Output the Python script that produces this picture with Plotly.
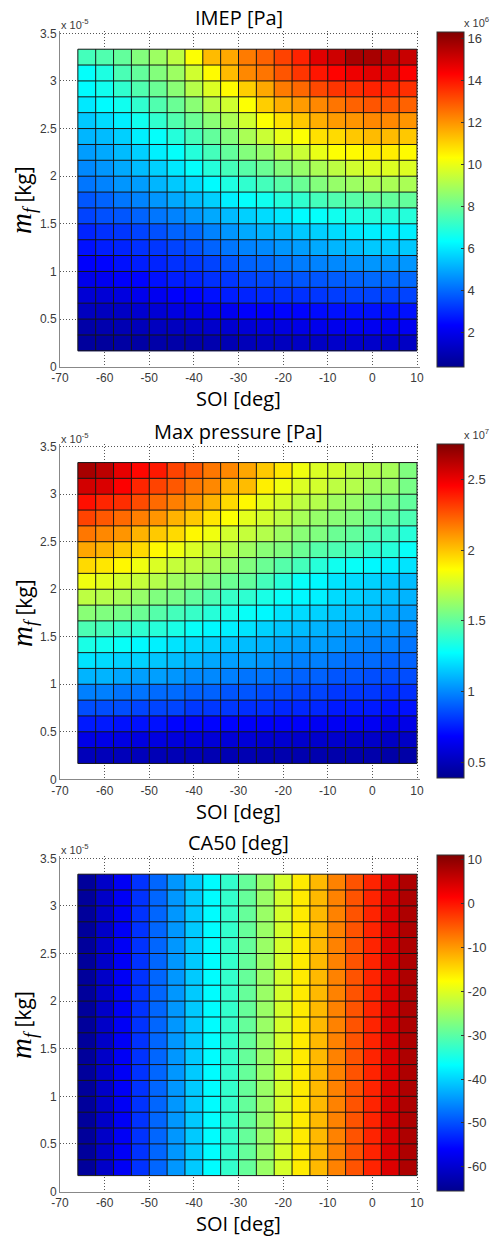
import plotly.graph_objects as go

# ---------------- data ----------------
# SOI grid (cell edges), deg
soi_edges = [-66, -62, -58, -54, -50, -46, -42, -38, -34, -30, -26, -22,
             -18, -14, -10, -6, -2, 2, 6, 10]
# fuel mass grid (cell edges), x 1e-5 kg
mf_edges = [0.167, 0.333, 0.5, 0.667, 0.833, 1.0, 1.167, 1.333, 1.5, 1.667,
            1.833, 2.0, 2.167, 2.333, 2.5, 2.667, 2.833, 3.0, 3.167, 3.333]

# IMEP, x 1e6 Pa  (rows: lowest m_f first; columns: SOI from -66)
imep = [
    [0.6, 0.6, 0.7, 0.7, 0.8, 0.8, 0.8, 0.9, 1.0, 1.1, 1.2, 1.2, 1.3, 1.3, 1.4, 1.4, 1.4, 1.4, 1.3],
    [0.8, 0.9, 1.0, 1.1, 1.2, 1.2, 1.3, 1.4, 1.5, 1.6, 1.7, 1.8, 1.9, 2.0, 2.0, 2.1, 2.1, 2.1, 2.1],
    [1.2, 1.2, 1.3, 1.5, 1.6, 1.8, 1.9, 2.0, 2.1, 2.3, 2.3, 2.4, 2.4, 2.5, 2.6, 2.6, 2.6, 2.6, 2.6],
    [1.6, 1.6, 1.8, 2.0, 2.1, 2.3, 2.4, 2.6, 2.8, 2.9, 3.0, 3.1, 3.1, 3.2, 3.3, 3.4, 3.4, 3.4, 3.4],
    [2.0, 2.1, 2.3, 2.4, 2.6, 2.8, 2.9, 3.1, 3.2, 3.4, 3.5, 3.6, 3.7, 3.7, 3.8, 3.9, 4.0, 4.0, 4.0],
    [2.3, 2.4, 2.6, 2.8, 2.9, 3.1, 3.2, 3.4, 3.7, 3.9, 4.0, 4.2, 4.3, 4.4, 4.5, 4.6, 4.7, 4.7, 4.7],
    [2.6, 2.8, 2.9, 3.1, 3.2, 3.4, 3.6, 3.9, 4.2, 4.4, 4.5, 4.7, 4.8, 5.0, 5.2, 5.3, 5.5, 5.5, 5.5],
    [2.9, 3.1, 3.2, 3.4, 3.6, 3.9, 4.0, 4.4, 4.7, 5.0, 5.2, 5.3, 5.5, 5.6, 5.8, 6.0, 6.1, 6.1, 6.1],
    [3.4, 3.6, 3.7, 3.9, 4.2, 4.4, 4.7, 5.0, 5.3, 5.6, 5.8, 6.0, 6.3, 6.4, 6.6, 6.8, 6.9, 6.9, 6.9],
    [3.7, 3.9, 4.2, 4.4, 4.7, 5.0, 5.3, 5.6, 6.1, 6.4, 6.6, 6.9, 7.1, 7.4, 7.6, 7.7, 7.9, 7.9, 7.9],
    [4.2, 4.4, 4.7, 4.8, 5.2, 5.5, 5.8, 6.3, 6.8, 7.1, 7.4, 7.7, 8.0, 8.4, 8.7, 8.8, 9.0, 9.0, 9.0],
    [4.5, 4.7, 5.0, 5.3, 5.6, 6.0, 6.4, 6.9, 7.4, 7.7, 8.0, 8.4, 8.7, 9.0, 9.3, 9.6, 9.8, 9.8, 9.8],
    [4.8, 5.0, 5.3, 5.6, 6.1, 6.4, 6.9, 7.4, 7.9, 8.4, 8.7, 9.2, 9.5, 10.0, 10.3, 10.4, 10.6, 10.6, 10.4],
    [5.2, 5.3, 5.6, 6.1, 6.4, 6.9, 7.4, 7.9, 8.4, 9.0, 9.5, 10.0, 10.3, 10.8, 10.9, 11.2, 11.4, 11.4, 11.2],
    [5.5, 5.8, 6.1, 6.6, 7.1, 7.6, 8.0, 8.5, 9.0, 9.6, 10.3, 10.8, 11.2, 11.6, 11.9, 12.0, 12.2, 12.2, 12.0],
    [6.0, 6.3, 6.6, 7.1, 7.6, 8.0, 8.5, 9.2, 9.6, 10.3, 11.1, 11.6, 11.9, 12.2, 12.5, 12.8, 13.0, 13.0, 12.8],
    [6.3, 6.6, 7.1, 7.6, 8.0, 8.5, 9.2, 9.8, 10.4, 11.1, 11.7, 12.4, 12.7, 13.2, 13.5, 13.6, 13.8, 13.8, 13.6],
    [6.4, 6.8, 7.5, 7.9, 8.4, 8.8, 9.6, 10.4, 11.4, 12.2, 12.5, 13.0, 13.5, 14.0, 14.3, 14.6, 14.8, 14.8, 14.4],
    [7.4, 7.6, 7.9, 8.4, 8.8, 9.3, 10.3, 11.4, 11.7, 12.4, 12.8, 13.3, 13.8, 14.8, 15.1, 15.7, 15.7, 15.4, 15.2],
]

# Max pressure, x 1e7 Pa
pmax = [
    [0.50, 0.50, 0.50, 0.50, 0.49, 0.49, 0.49, 0.48, 0.48, 0.48, 0.47, 0.47, 0.47, 0.47, 0.46, 0.46, 0.46, 0.45, 0.45],
    [0.62, 0.62, 0.61, 0.60, 0.60, 0.59, 0.59, 0.58, 0.58, 0.58, 0.56, 0.56, 0.55, 0.55, 0.55, 0.54, 0.54, 0.53, 0.53],
    [0.74, 0.74, 0.72, 0.72, 0.72, 0.69, 0.69, 0.69, 0.69, 0.67, 0.67, 0.67, 0.67, 0.65, 0.65, 0.65, 0.65, 0.62, 0.62],
    [0.86, 0.86, 0.86, 0.84, 0.84, 0.84, 0.81, 0.81, 0.81, 0.79, 0.79, 0.77, 0.77, 0.77, 0.74, 0.74, 0.74, 0.72, 0.72],
    [0.98, 0.98, 0.95, 0.95, 0.93, 0.93, 0.91, 0.91, 0.88, 0.88, 0.86, 0.86, 0.84, 0.84, 0.81, 0.81, 0.81, 0.79, 0.79],
    [1.10, 1.10, 1.07, 1.05, 1.05, 1.03, 1.00, 1.00, 0.98, 0.95, 0.95, 0.93, 0.91, 0.91, 0.88, 0.88, 0.86, 0.86, 0.86],
    [1.21, 1.19, 1.17, 1.17, 1.14, 1.12, 1.10, 1.07, 1.05, 1.05, 1.03, 1.00, 0.98, 0.98, 0.95, 0.93, 0.93, 0.91, 0.91],
    [1.33, 1.31, 1.29, 1.26, 1.24, 1.21, 1.19, 1.17, 1.14, 1.12, 1.10, 1.07, 1.05, 1.05, 1.03, 1.00, 0.98, 0.98, 0.95],
    [1.45, 1.43, 1.40, 1.38, 1.36, 1.33, 1.29, 1.26, 1.24, 1.21, 1.17, 1.14, 1.12, 1.10, 1.07, 1.05, 1.03, 1.03, 1.00],
    [1.59, 1.57, 1.55, 1.52, 1.47, 1.43, 1.40, 1.36, 1.33, 1.29, 1.26, 1.21, 1.19, 1.17, 1.14, 1.12, 1.10, 1.07, 1.05],
    [1.71, 1.69, 1.66, 1.62, 1.57, 1.55, 1.50, 1.45, 1.40, 1.38, 1.33, 1.29, 1.26, 1.24, 1.19, 1.17, 1.14, 1.12, 1.10],
    [1.83, 1.80, 1.76, 1.73, 1.69, 1.64, 1.62, 1.57, 1.52, 1.50, 1.43, 1.36, 1.29, 1.26, 1.21, 1.19, 1.17, 1.14, 1.12],
    [1.95, 1.92, 1.88, 1.83, 1.78, 1.73, 1.71, 1.66, 1.62, 1.57, 1.52, 1.47, 1.43, 1.36, 1.31, 1.29, 1.26, 1.24, 1.21],
    [2.07, 2.04, 1.99, 1.95, 1.88, 1.83, 1.78, 1.73, 1.69, 1.64, 1.59, 1.57, 1.52, 1.47, 1.45, 1.43, 1.38, 1.36, 1.29],
    [2.18, 2.14, 2.11, 2.04, 1.99, 1.95, 1.88, 1.83, 1.76, 1.73, 1.69, 1.64, 1.59, 1.57, 1.52, 1.50, 1.45, 1.43, 1.36],
    [2.30, 2.25, 2.21, 2.16, 2.11, 2.04, 1.99, 1.92, 1.86, 1.80, 1.76, 1.71, 1.66, 1.62, 1.59, 1.57, 1.52, 1.50, 1.45],
    [2.42, 2.37, 2.35, 2.28, 2.21, 2.16, 2.11, 2.04, 1.95, 1.88, 1.80, 1.76, 1.71, 1.69, 1.64, 1.62, 1.57, 1.55, 1.50],
    [2.56, 2.54, 2.46, 2.37, 2.30, 2.25, 2.18, 2.14, 2.04, 2.02, 1.90, 1.83, 1.78, 1.76, 1.71, 1.69, 1.64, 1.62, 1.55],
    [2.66, 2.61, 2.51, 2.44, 2.40, 2.30, 2.25, 2.18, 2.14, 2.07, 1.99, 1.92, 1.83, 1.78, 1.76, 1.71, 1.69, 1.66, 1.57],
]

# CA50, deg (same for every m_f row)
ca50_by_soi = [-64.5, -60.6, -56.7, -52.2, -48.3, -44.6, -40.8, -37.0, -33.0, -29.2,
               -25.3, -20.8, -16.2, -12.4, -8.3, -4.8, -1.2, 4.0, 7.5]
ca50 = [list(ca50_by_soi) for _ in mf_edges[:-1]]

# colour limits
imep_clim = [0.35, 16.33]
pmax_clim = [0.387, 2.75]
ca50_clim = [-65.5, 11.0]

# axis ranges and tick values / labels
soi_range = [-70, 10]
mf_range = [0, 3.5]
soi_ticks = [-70, -60, -50, -40, -30, -20, -10, 0, 10]
soi_ticktext = ["-70", "-60", "-50", "-40", "-30", "-20", "-10", "0", "10"]
mf_ticks = [0, 0.5, 1, 1.5, 2, 2.5, 3, 3.5]
mf_ticktext = ["0", "0.5", "1", "1.5", "2", "2.5", "3", "3.5"]
imep_cticks = [2, 4, 6, 8, 10, 12, 14, 16]
pmax_cticks = [0.5, 1, 1.5, 2, 2.5]
pmax_ctext = ["0.5", "1", "1.5", "2", "2.5"]
ca50_cticks = [-60, -50, -40, -30, -20, -10, 0, 10]

titles = ["IMEP [Pa]", "Max pressure [Pa]", "CA50 [deg]"]
cbar_exponents = ["x 10<sup>6</sup>", "x 10<sup>7</sup>", ""]

# ---------------- layout geometry (pixels) ----------------
W, H = 493, 1238
ax_left, ax_right = 60, 417
panels = [  # y px of axis top (3.5) and bottom (0); colour-bar top/bottom
    dict(top=33.3, bottom=366.7, cb_top=32, cb_bot=367),
    dict(top=446.7, bottom=779.3, cb_top=444, cb_bot=778.3),
    dict(top=858.3, bottom=1191.5, cb_top=855, cb_bot=1191),
]
cb_left, cb_thick = 437, 27
PAD = 2.5  # px of extra room beyond the far range ends, so end grid lines are drawn

JET = [[0.0, "rgb(0,0,143)"], [0.125, "rgb(0,0,255)"], [0.375, "rgb(0,255,255)"],
       [0.625, "rgb(255,255,0)"], [0.875, "rgb(255,0,0)"], [1.0, "rgb(128,0,0)"]]

TICKFONT = dict(family="Liberation Sans, Arial", size=12, color="#3a3a3a")
LABELFONT = dict(family="Open Sans, Lato, sans-serif", size=20, color="black")
SMALLFONT = dict(family="Liberation Sans, Arial", size=11, color="#3a3a3a")

fig = go.Figure()

datasets = [
    (imep, imep_clim, imep_cticks, [str(v) for v in imep_cticks]),
    (pmax, pmax_clim, pmax_cticks, pmax_ctext),
    (ca50, ca50_clim, ca50_cticks, [str(v) for v in ca50_cticks]),
]

# cell edge lines from the grid arrays
gx, gy = [], []
for xe in soi_edges:
    gx += [xe, xe, None]
    gy += [mf_edges[0], mf_edges[-1], None]
for ye in mf_edges:
    gx += [soi_edges[0], soi_edges[-1], None]
    gy += [ye, ye, None]

x_per_px = (soi_range[1] - soi_range[0]) / (ax_right - ax_left)

annotations = []
for k, (z, clim, ctv, ctt) in enumerate(datasets):
    p = panels[k]
    xa = "x" if k == 0 else f"x{k+1}"
    ya = "y" if k == 0 else f"y{k+1}"
    cb_len = (p["cb_bot"] - p["cb_top"]) / H
    cb_y = 1 - (p["cb_top"] + p["cb_bot"]) / 2 / H
    fig.add_trace(go.Heatmap(
        x=soi_edges, y=mf_edges, z=z, zmin=clim[0], zmax=clim[1],
        colorscale=JET, xaxis=xa, yaxis=ya, hoverinfo="skip",
        colorbar=dict(
            x=cb_left / W, xanchor="left", xref="paper",
            y=cb_y, yanchor="middle", len=cb_len, lenmode="fraction",
            thickness=cb_thick, thicknessmode="pixels",
            outlinewidth=1, outlinecolor="#333333",
            tickvals=ctv, ticktext=ctt, ticks="inside", ticklen=3,
            tickcolor="#333333",
            tickfont=dict(family="Liberation Sans, Arial", size=13, color="#3a3a3a"),
            xpad=0, ypad=0,
        ),
    ))
    fig.add_trace(go.Scatter(
        x=gx, y=gy, mode="lines", xaxis=xa, yaxis=ya,
        line=dict(color="#151515", width=1), hoverinfo="skip", showlegend=False,
    ))

    y_per_px = (mf_range[1] - mf_range[0]) / (p["bottom"] - p["top"])
    xdom = [ax_left / W, (ax_right + PAD) / W]
    ydom = [1 - p["bottom"] / H, 1 - (p["top"] - PAD) / H]
    axis_common = dict(showgrid=True, gridcolor="#555555", griddash="1px,2px", gridwidth=1,
                       zeroline=False, showline=True, linecolor="#888888", linewidth=1,
                       ticks="", tickfont=TICKFONT, automargin=False, fixedrange=True)
    fig.update_layout(**{
        ("xaxis" if k == 0 else f"xaxis{k+1}"): dict(
            domain=xdom, range=[soi_range[0], soi_range[1] + PAD * x_per_px],
            tickvals=soi_ticks, ticktext=soi_ticktext, anchor=ya, **axis_common),
        ("yaxis" if k == 0 else f"yaxis{k+1}"): dict(
            domain=ydom, range=[mf_range[0], mf_range[1] + PAD * y_per_px],
            tickvals=mf_ticks, ticktext=mf_ticktext, anchor=xa, **axis_common),
    })

    xc = (ax_left + ax_right) / 2 / W
    # title
    annotations.append(dict(text=titles[k], x=xc, y=1 - (p["top"] - 15.5) / H,
                            xref="paper", yref="paper", showarrow=False,
                            xanchor="center", yanchor="middle", font=LABELFONT))
    # x label
    annotations.append(dict(text="SOI [deg]", x=xc, y=1 - (p["bottom"] + 32) / H,
                            xref="paper", yref="paper", showarrow=False,
                            xanchor="center", yanchor="middle", font=LABELFONT))
    # y label
    annotations.append(dict(
        text=('<span style="font-family:Liberation Serif, serif;font-size:29px"><i>m</i></span>'
              '<span style="font-family:Liberation Serif, serif;font-size:26px"><sub><i>f</i></sub></span>'
              '<span style="font-size:21px"> [kg]</span>'),
        x=23 / W, y=1 - (p["top"] + p["bottom"]) / 2 / H, textangle=-90,
        xref="paper", yref="paper", showarrow=False,
        xanchor="center", yanchor="middle", font=LABELFONT))
    # y exponent
    annotations.append(dict(text="x 10<sup>-5</sup>", x=59 / W, y=1 - (p["top"] - 9) / H,
                            xref="paper", yref="paper", showarrow=False,
                            xanchor="left", yanchor="middle", font=SMALLFONT))
    if cbar_exponents[k]:
        annotations.append(dict(text=cbar_exponents[k], x=462 / W, y=1 - (p["cb_top"] - 10) / H,
                                xref="paper", yref="paper", showarrow=False,
                                xanchor="left", yanchor="middle", font=SMALLFONT))

fig.update_layout(
    width=W, height=H, margin=dict(l=0, r=0, t=0, b=0),
    paper_bgcolor="white", plot_bgcolor="white", showlegend=False,
    annotations=annotations,
)

fig.write_html("out.html", config={"displayModeBar": False},
               post_script="document.body.style.margin='0px';")
